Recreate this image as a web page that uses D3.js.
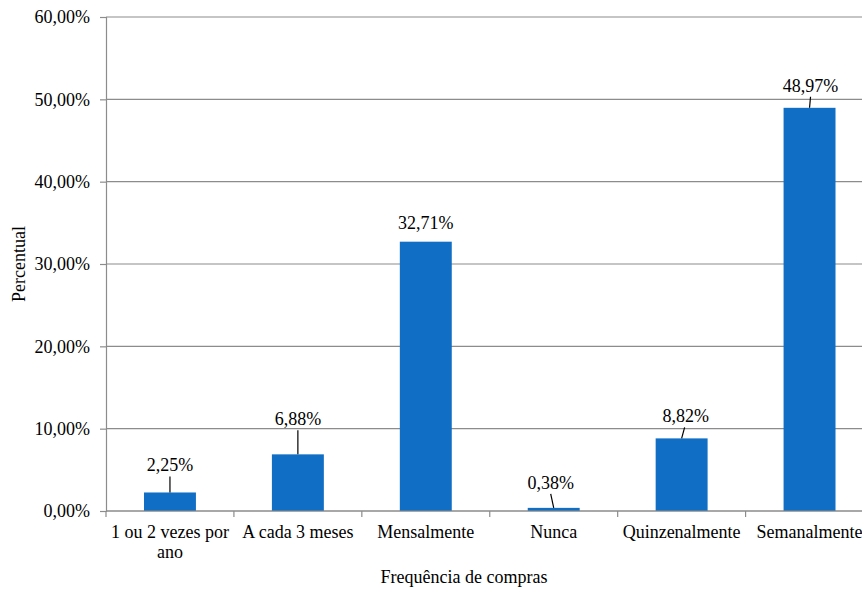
<!DOCTYPE html>
<html>
<head>
<meta charset="utf-8">
<script src="https://cdn.jsdelivr.net/npm/d3@7"></script>
<style>
  html, body { margin: 0; padding: 0; background: #fff; }
</style>
</head>
<body>
<svg id="chart" width="862" height="589"></svg>
<script>
// Purchase frequency distribution
const categories = ["1 ou 2 vezes por ano", "A cada 3 meses", "Mensalmente", "Nunca", "Quinzenalmente", "Semanalmente"];
const percents = [2.25, 6.88, 32.71, 0.38, 8.82, 48.97];
const yTicks = [0, 10, 20, 30, 40, 50, 60];

// Leader-line placement for each value label
const labelLayout = [
  { dx: 0, rise: 27, lineDx: 0, line: true },
  { dx: 0, rise: 35, lineDx: 0, line: true },
  { dx: 0, rise: 19, lineDx: 0, line: false },
  { dx: -3, rise: 25, lineDx: -3, line: true },
  { dx: 4, rise: 22, lineDx: 3, line: true },
  { dx: 1, rise: 22, lineDx: 1, line: true }
];

const FONT = "Liberation Serif";
const FS = 18;
const svg = d3.select("#chart");
const plotLeft = 106, plotTop = 17, plotBottom = 511, plotRight = 873.5;

const x = d3.scaleBand().domain(categories).range([plotLeft, plotRight]).paddingInner(0.594).paddingOuter(0.297);
const y = d3.scaleLinear().domain([0, 60]).range([plotBottom, plotTop]);
const fmt = v => d3.format(".2f")(v).replace(".", ",") + "%";

const addText = (sel) => sel.append("text").attr("font-family", FONT).attr("font-size", FS).attr("fill", "#000");

// Horizontal gridlines
svg.append("g").selectAll("line").data(yTicks).join("line")
  .attr("x1", plotLeft).attr("x2", plotRight)
  .attr("y1", d => y(d)).attr("y2", d => y(d))
  .attr("stroke", "#8c8c8c").attr("stroke-width", 1.2);

// Bars
svg.append("g").selectAll("rect").data(percents).join("rect")
  .attr("x", (d, i) => x(categories[i]))
  .attr("y", d => y(d))
  .attr("width", x.bandwidth())
  .attr("height", d => plotBottom - y(d))
  .attr("fill", "#106ec5");

// Y axis
const yAxis = d3.axisLeft(y).tickValues(yTicks).tickSize(6).tickPadding(10).tickFormat(d => fmt(d));
const gy = svg.append("g").attr("transform", `translate(${plotLeft},0)`).call(yAxis);
gy.select(".domain").attr("stroke", "#8c8c8c").attr("stroke-width", 1.2);
gy.selectAll(".tick line").attr("stroke", "#8c8c8c").attr("stroke-width", 1.2);
gy.selectAll(".tick text").attr("fill", "#000").attr("font-family", FONT).attr("font-size", FS);

// X axis: tick marks on category boundaries
const step = x.step();
const boundaries = d3.range(categories.length + 1).map(i => plotLeft + i * step);
svg.append("g").selectAll("line").data(boundaries).join("line")
  .attr("x1", d => d).attr("x2", d => d)
  .attr("y1", plotBottom).attr("y2", plotBottom + 6)
  .attr("stroke", "#8c8c8c").attr("stroke-width", 1.2);
svg.append("line").attr("x1", plotLeft).attr("x2", plotRight).attr("y1", plotBottom).attr("y2", plotBottom)
  .attr("stroke", "#8c8c8c").attr("stroke-width", 1.2);

// Category labels (first one wraps onto two lines)
const catLines = c => c === "1 ou 2 vezes por ano" ? ["1 ou 2 vezes por", "ano"] : [c];
const gx = svg.append("g");
categories.forEach(c => {
  const cx = x(c) + x.bandwidth() / 2;
  const t = addText(gx).attr("x", cx).attr("y", 538).attr("text-anchor", "middle");
  catLines(c).forEach((s, k) => {
    t.append("tspan").attr("x", cx).attr("dy", k === 0 ? 0 : 20).text(s);
  });
});

// Value labels with leader lines
percents.forEach((v, i) => {
  const cx = x(categories[i]) + x.bandwidth() / 2;
  const L = labelLayout[i];
  const ty = y(v) - L.rise;
  addText(svg)
    .attr("x", cx + L.dx).attr("y", ty + 6)
    .attr("text-anchor", "middle")
    .text(fmt(v));
  if (L.line) {
    svg.append("line")
      .attr("x1", cx + L.lineDx).attr("y1", ty + 11)
      .attr("x2", cx).attr("y2", y(v))
      .attr("stroke", "#000").attr("stroke-width", 1.2);
  }
});

// Axis titles
addText(svg).attr("x", 464).attr("y", 583).attr("text-anchor", "middle")
  .text("Frequência de compras");
addText(svg).attr("transform", "translate(25,264) rotate(-90)").attr("text-anchor", "middle")
  .text("Percentual");
</script>
</body>
</html>
